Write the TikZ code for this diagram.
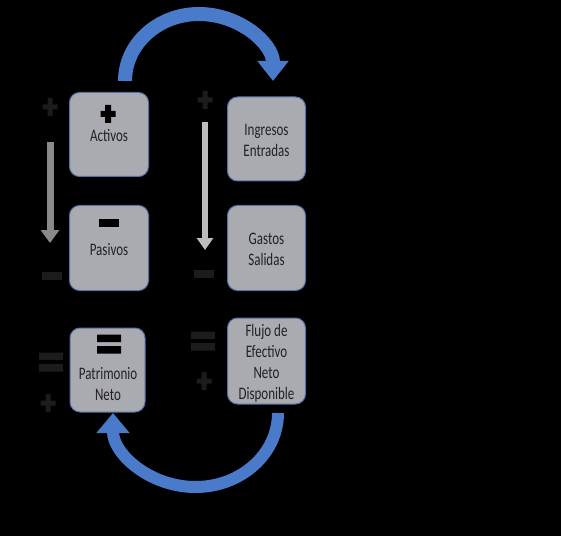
\documentclass[tikz,border=0pt]{standalone}
\usepackage{fontspec}
\usepackage{graphicx}
\setmainfont{Carlito}
\usetikzlibrary{arrows.meta}
\definecolor{boxfill}{RGB}{170,171,177}
\definecolor{boxline}{HTML}{5470A8}
\definecolor{boxtext}{HTML}{222222}
\definecolor{arcblue}{HTML}{4A7BCB}
\definecolor{signdark}{HTML}{1C1C1C}
\definecolor{leftgray}{HTML}{8A8A8A}
\definecolor{rightgray}{HTML}{BDBDBD}
\newcommand\tx[1]{\raisebox{-3pt}[\height][\depth]{\scalebox{1}[1.35]{\begin{tabular}{@{}c@{}}#1\end{tabular}}}}
\newcommand\plusmark[4]{\begin{scope}[shift={(#1,#2)}]\fill[#3] (-7.5,-#4/2) rectangle (7.5,#4/2) (-#4/2,-9) rectangle (#4/2,9);\end{scope}}
\newcommand\minusmark[3]{\begin{scope}[shift={(#1,#2)}]\fill[#3] (-10,-4) rectangle (10,4);\end{scope}}
\newcommand\eqmark[3]{\begin{scope}[shift={(#1,#2)}]\fill[#3] (-12,-9.5) rectangle (12,-2) (-12,2) rectangle (12,9.5);\end{scope}}
\begin{document}
\begin{tikzpicture}[x=1pt,y=1pt,
  box/.style={draw=boxline, line width=1pt, fill=boxfill, rounded corners=10pt,
    inner sep=0pt, text=boxtext, font=\fontsize{13}{15.5}\selectfont, anchor=center},
  lbl/.style={inner sep=0pt, text=boxtext, font=\fontsize{13}{15.5}\selectfont}]
\fill[black] (0,0) rectangle (561,536);
\useasboundingbox (0,0) rectangle (561,536);
% boxes
\node[box, minimum width=79pt, minimum height=84pt] (activos) at (109,401.5) {\tx{Activos}};
\node[box, minimum width=78pt, minimum height=84pt] (ingresos) at (266.5,397) {\tx{Ingresos\\Entradas}};
\node[box, minimum width=79pt, minimum height=85pt] (pasivos) at (109,288) {\tx{Pasivos}};
\node[box, minimum width=78pt, minimum height=85pt] (gastos) at (266.5,288) {\tx{Gastos\\Salidas}};
\node[box, minimum width=75pt, minimum height=84pt] (patrimonio) at (107.5,166) {};
\node[lbl] (patrimonioT) at (108,153.5) {\tx{Patrimonio\\Neto}};
\node[box, minimum width=78pt, minimum height=86pt] (flujo) at (266.5,175) {\tx{Flujo de\\Efectivo\\Neto\\Disponible}};
% icons inside boxes
\plusmark{108}{422}{black}{6}
\minusmark{108.5}{313}{black}
\eqmark{109}{192}{black}
% outside signs
\plusmark{50}{429}{signdark}{5}
\minusmark{52}{260}{signdark}
\eqmark{51}{174}{signdark}
\plusmark{48}{133}{signdark}{5}
\plusmark{205}{436}{signdark}{5}
\minusmark{204}{262}{signdark}
\eqmark{203}{195}{signdark}
\plusmark{204}{155}{signdark}{5}
% gray arrows
\coordinate (la1) at (50,394);
\coordinate (la2) at (50,293);
\draw[leftgray, line width=7pt, -{Triangle[width=18pt,length=13pt]}] (la1) -- (la2);
\coordinate (ra1) at (205,414);
\coordinate (ra2) at (205,286);
\draw[rightgray, line width=6pt, -{Triangle[width=16pt,length=12pt]}] (ra1) -- (ra2);
% blue arcs
\coordinate (tA) at (125,455);
\draw[arcblue, line width=14pt, -{Triangle[width=30pt,length=20pt]}] (tA) arc[start angle=180, end angle=0, x radius=74, y radius=67];
\coordinate (bA) at (278,123);
\draw[arcblue, line width=12pt, -{Triangle[width=32pt,length=20pt]}] (bA) arc[start angle=0, end angle=-180, x radius=82.5, y radius=74];
\end{tikzpicture}
\end{document}
